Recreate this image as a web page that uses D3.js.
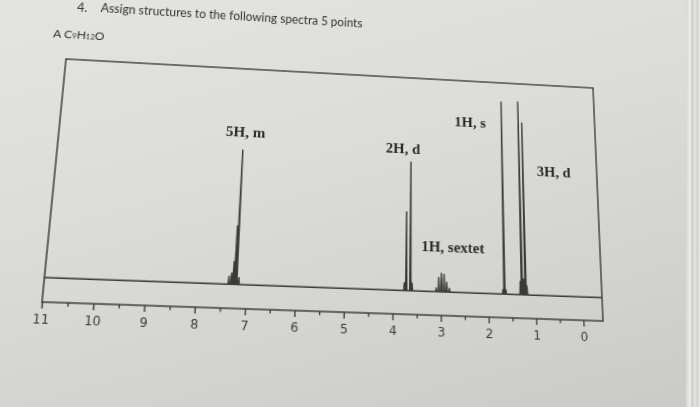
<!DOCTYPE html>
<html><head><meta charset="utf-8">
<script src="https://cdn.jsdelivr.net/npm/d3@7"></script>
<style>
html,body{margin:0;padding:0;width:700px;height:407px;overflow:hidden;}
body{background:linear-gradient(165deg,#e4e4e0 0%,#dcdcd8 40%,#d2d2ce 75%,#cacac6 100%);position:relative;}
#sheet{position:absolute;left:0;top:0;transform-origin:0 0;}
#edge{position:absolute;top:0;right:0;width:14px;height:407px;
  background:linear-gradient(90deg,#d6d6d2 0%,#ececea 30%,#c9c9c5 45%,#e6e6e2 60%,#d0d0cc 80%,#e9e9e5 100%);}
</style></head><body>
<div id="edge"></div>
<div id="sheet"></div>
<script>
// chemical-shift axis (ppm)
const ppmMajor = [11, 10, 9, 8, 7, 6, 5, 4, 3, 2, 1, 0];
const ppmMinor = [10.5, 9.5, 8.5, 7.5, 6.5, 5.5, 4.5, 3.5, 2.5, 1.5, 0.5];

// resonance lines: shift (ppm) and relative height
const peakShifts  = [7.35, 7.30, 7.26, 7.23, 7.20, 7.15,
                     3.76, 3.72, 3.635, 3.60,
                     3.095, 3.04, 2.985, 2.93, 2.875, 2.82,
                     1.69, 1.66, 1.63,
                     1.32, 1.288, 1.25, 1.21, 1.18];
const peakHeights = [0.035, 0.05, 0.10, 0.26, 0.61, 0.03,
                     0.035, 0.357, 0.592, 0.035,
                     0.016, 0.063, 0.083, 0.078, 0.044, 0.016,
                     0.02, 0.905, 0.02,
                     0.06, 0.909, 0.07, 0.807, 0.04];

// multiplicity annotations
const groupLabels  = ["5H, m", "2H, d", "1H, s", "1H, sextet", "3H, d"];
const labelShifts  = [7.16, 3.81, 2.35, 2.74, 0.53];
const labelHeights = [0.696, 0.657, 0.799, 0.206, 0.577];

// ---- layout ----
const W = 540, H = 240, M = 100;
const ppmEnd = -0.42;
const baseFrac = 0.905;
const lineHalfWidth = 0.012;
const ink = "#3a3a3a";

// page is viewed at an angle: corners of the frame on screen
const quad = [[66, 59], [593, 88], [603, 321], [42, 302]];

function squareToQuad(q) {
  const [x0, y0] = q[0], [x1, y1] = q[1], [x2, y2] = q[2], [x3, y3] = q[3];
  const sx = x0 - x1 + x2 - x3, sy = y0 - y1 + y2 - y3;
  const dx1 = x1 - x2, dx2 = x3 - x2, dy1 = y1 - y2, dy2 = y3 - y2;
  const den = dx1 * dy2 - dx2 * dy1;
  const g = (sx * dy2 - dx2 * sy) / den;
  const h = (dx1 * sy - sx * dy1) / den;
  return {
    a: x1 - x0 + g * x1, b: x3 - x0 + h * x3, c: x0,
    d: y1 - y0 + g * y1, e: y3 - y0 + h * y3, f: y0, g, h
  };
}
const P = squareToQuad(quad);
const A = P.a / W, B = P.b / H, C = P.c - P.a * M / W - P.b * M / H;
const D = P.d / W, E = P.e / H, F = P.f - P.d * M / W - P.e * M / H;
const G = P.g / W, Hh = P.h / H, K = 1 - P.g * M / W - P.h * M / H;

const sheet = d3.select("#sheet")
  .style("width", (W + 2 * M) + "px")
  .style("height", (H + 2 * M) + "px")
  .style("transform", `matrix3d(${A},${D},0,${G},${B},${E},0,${Hh},0,0,1,0,${C},${F},0,${K})`);

const svg = sheet.append("svg")
  .attr("width", W + 2 * M).attr("height", H + 2 * M)
  .style("overflow", "visible");
const g = svg.append("g").attr("transform", `translate(${M},${M})`);

const x = d3.scaleLinear().domain([11, ppmEnd]).range([0, W]);
const y = d3.scaleLinear().domain([0, 1]).range([baseFrac * H, 0]);

// heading
g.append("text")
  .attr("x", 6).attr("y", -56)
  .attr("dominant-baseline", "central")
  .attr("font-family", "Lato, 'Open Sans', sans-serif")
  .attr("font-size", 12.5).attr("fill", "#333")
  .text("4.");
g.append("text")
  .attr("x", 29.5).attr("y", -57)
  .attr("dominant-baseline", "central")
  .attr("font-family", "Lato, 'Open Sans', sans-serif")
  .attr("font-size", 13).attr("fill", "#333")
  .attr("textLength", 267).attr("lengthAdjust", "spacingAndGlyphs")
  .text("Assign structures to the following spectra 5 points");

const formula = g.append("text")
  .attr("x", -15).attr("y", -27.5)
  .attr("dominant-baseline", "central")
  .attr("font-family", "Lato, 'Open Sans', sans-serif")
  .attr("font-size", 12).attr("fill", "#333");
formula.append("tspan").text("A  C");
formula.append("tspan").attr("font-size", 7.5).attr("dy", 2.5).text("9");
formula.append("tspan").attr("dy", -2.5).text("H");
formula.append("tspan").attr("font-size", 7.5).attr("dy", 2.5).text("12");
formula.append("tspan").attr("dy", -2.5).text("O");

// frame
g.append("rect")
  .attr("x", 0).attr("y", 0).attr("width", W).attr("height", H)
  .attr("fill", "none").attr("stroke", ink).attr("stroke-width", 1.4);

// axis ticks
const axMajor = g.append("g").attr("transform", `translate(0,${H})`)
  .call(d3.axisBottom(x).tickValues(ppmMajor).tickSize(6).tickSizeOuter(0)
    .tickPadding(5).tickFormat(d3.format("d")));
const axMinor = g.append("g").attr("transform", `translate(0,${H})`)
  .call(d3.axisBottom(x).tickValues(ppmMinor).tickSize(3.5).tickSizeOuter(0).tickFormat(""));
[axMajor, axMinor].forEach(ax => {
  ax.select(".domain").remove();
  ax.selectAll(".tick line").attr("stroke", ink).attr("stroke-width", 1.3);
});
axMajor.selectAll(".tick text")
  .attr("font-family", "'DejaVu Sans', Verdana, sans-serif")
  .attr("font-size", 12).attr("fill", "#3c3c3c");

// spectrum trace
const pts = [[11, 0]];
peakShifts.map((p, i) => ({p, h: peakHeights[i]}))
  .sort((a, b) => b.p - a.p)
  .forEach(d => {
    pts.push([d.p + lineHalfWidth, 0], [d.p, d.h], [d.p - lineHalfWidth, 0]);
  });
pts.push([ppmEnd, 0]);

g.append("path")
  .datum(pts)
  .attr("fill", "none").attr("stroke", ink).attr("stroke-width", 1.4)
  .attr("stroke-linejoin", "round")
  .attr("d", d3.line().x(d => x(d[0])).y(d => y(d[1])));

// multiplicity labels
g.selectAll("text.mult")
  .data(groupLabels)
  .join("text").attr("class", "mult")
  .attr("x", (d, i) => x(labelShifts[i]))
  .attr("y", (d, i) => y(labelHeights[i]))
  .attr("text-anchor", "middle").attr("dominant-baseline", "central")
  .attr("font-family", "'Liberation Serif', 'DejaVu Serif', serif")
  .attr("font-weight", "bold").attr("font-size", 15).attr("fill", "#2a2a2a")
  .text(d => d);
</script>
</body></html>
